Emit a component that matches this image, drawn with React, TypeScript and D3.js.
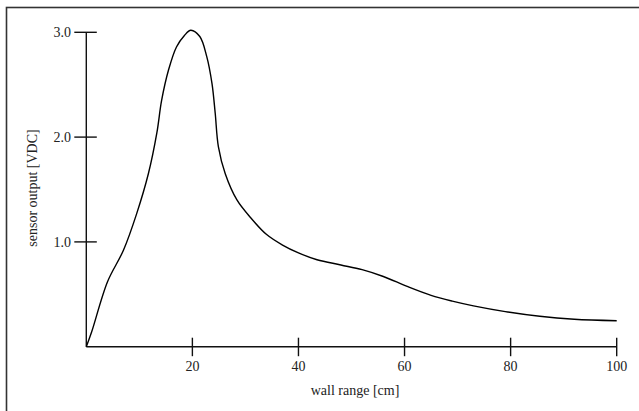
import React from "react";
import * as d3 from "d3";

const rangeCm = [0, 1, 4, 7, 9.5, 11.7, 13.3, 14.2, 15.5, 17, 18.5, 19.7, 21.4, 22.7, 23.7, 24.3, 24.9, 26.2, 28.4, 31, 34, 37, 40, 43.5, 48, 52, 56, 60.5, 65, 69, 73, 79, 85.5, 92, 100];
const outputVdc = [0, 0.14, 0.62, 0.92, 1.27, 1.65, 2.04, 2.35, 2.64, 2.86, 2.97, 3.02, 2.96, 2.77, 2.51, 2.23, 1.91, 1.65, 1.40, 1.23, 1.07, 0.97, 0.895, 0.83, 0.78, 0.735, 0.67, 0.575, 0.49, 0.435, 0.39, 0.335, 0.29, 0.262, 0.248];
const xTicks = [20, 40, 60, 80, 100];
const yTicks = [1.0, 2.0, 3.0];
const xTitle = "wall range [cm]";
const yTitle = "sensor output [VDC]";

const W = 639;
const H = 411;
const FONT = "Liberation Serif, Times New Roman, serif";

export default function App() {
  const x = d3.scaleLinear().domain([0, 100]).range([86.3, 616.7]);
  const y = d3.scaleLinear().domain([0, 3]).range([346.7, 32.3]);
  const pts = rangeCm.map((v, i) => [v, outputVdc[i]] as [number, number]);
  const line = d3
    .line<[number, number]>()
    .x((d) => x(d[0]))
    .y((d) => y(d[1]))
    .curve(d3.curveCatmullRom.alpha(0.5));
  const x0 = x(0);
  const y0 = y(0);
  const ts = { fontFamily: FONT, fontSize: "14px" };
  return (
    <svg
      width={W}
      height={H}
      style={{ position: "absolute", left: 0, top: 0, background: "#fff" }}
    >
      <rect x={6.5} y={7.5} width={W + 20} height={H + 20} fill="none" stroke="#333" strokeWidth={1.6} />
      <line x1={x0} x2={x0} y1={y(3)} y2={y0} stroke="#111" strokeWidth={1.4} />
      <line x1={x0} x2={x(100)} y1={y0} y2={y0} stroke="#111" strokeWidth={1.4} />
      {xTicks.map((t) => (
        <g key={"x" + t}>
          <line x1={x(t)} x2={x(t)} y1={y0 - 9} y2={y0 + 9.5} stroke="#111" strokeWidth={1.4} />
          <text x={x(t)} y={371} textAnchor="middle" style={ts} fill="#222">
            {t}
          </text>
        </g>
      ))}
      {yTicks.map((t) => (
        <g key={"y" + t}>
          <line x1={x0 - 12} x2={x0 + 10.5} y1={y(t)} y2={y(t)} stroke="#111" strokeWidth={1.4} />
          <text x={71} y={y(t) + 4.8} textAnchor="end" style={ts} fill="#222">
            {t.toFixed(1)}
          </text>
        </g>
      ))}
      <text x={355} y={395} textAnchor="middle" style={ts} fill="#222">
        {xTitle}
      </text>
      <text transform={`translate(37, 188) rotate(-90)`} textAnchor="middle" style={ts} fill="#222">
        {yTitle}
      </text>
      <path d={line(pts) || ""} fill="none" stroke="#000" strokeWidth={1.4} />
    </svg>
  );
}
